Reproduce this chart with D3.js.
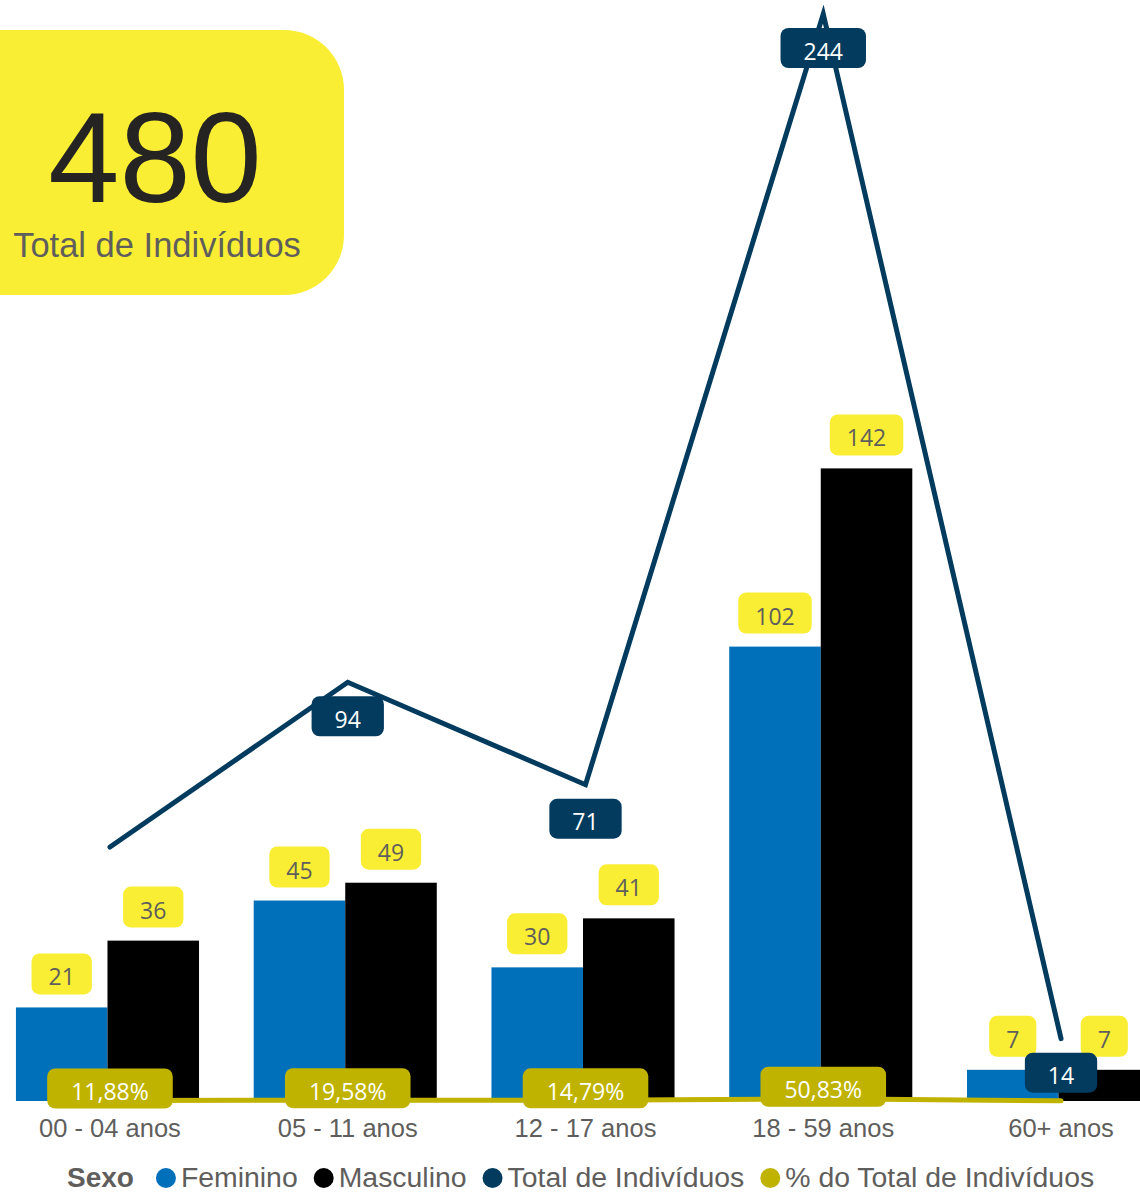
<!DOCTYPE html>
<html><head><meta charset="utf-8">
<script src="https://cdn.jsdelivr.net/npm/d3@7"></script>
<style>body{margin:0;background:#fff;} svg{display:block;}</style>
</head><body>
<svg id="chart" width="1140" height="1194"></svg>
<script>
// ---- data ----
const categories = ["00 - 04 anos", "05 - 11 anos", "12 - 17 anos", "18 - 59 anos", "60+ anos"];
const feminino = [21, 45, 30, 102, 7];
const masculino = [36, 49, 41, 142, 7];
const totalIndividuos = [57, 94, 71, 244, 14];
const showTotalLabel = [false, true, true, true, true];
const showPctLabel = [true, true, true, true, false];
const seriesNames = ["Feminino", "Masculino", "Total de Indivíduos", "% do Total de Indivíduos"];
const legendTitle = "Sexo";
const cardCaption = "Total de Indivíduos";

const grandTotal = d3.sum(totalIndividuos);
const pctTotal = totalIndividuos.map(v => v / grandTotal);
const fmtPct = v => (v * 100).toFixed(2).replace(".", ",") + "%";

// ---- style ----
const C = {
  fem: "#0070BA", masc: "#000000", total: "#023B5E", pct: "#BFB300",
  yellow: "#F9EE33", gray: "#605E5C", dark: "#252423"
};
const labelFont = "'Segoe UI', 'Open Sans', 'Noto Sans', sans-serif";
const textFont = "'Liberation Sans', Arial, sans-serif";

const svg = d3.select("#chart");

// ---- scales ----
const x = d3.scaleBand().domain(categories).range([-8.9, 1179.9]).paddingInner(0.23).paddingOuter(0.115);
const xSub = d3.scaleBand().domain(["Feminino", "Masculino"]).range([0, x.bandwidth()]);
const y = d3.scaleLinear().domain([0, 244]).range([1101, 14]);
const cx = c => x(c) + x.bandwidth() / 2;
const barShift = -2.5;

// ---- bars ----
const barData = [];
categories.forEach((c, i) => {
  barData.push({c, key: "Feminino", v: feminino[i], color: C.fem});
  barData.push({c, key: "Masculino", v: masculino[i], color: C.masc});
});
svg.append("g").selectAll("rect").data(barData).join("rect")
  .attr("x", d => x(d.c) + barShift + xSub(d.key))
  .attr("width", xSub.bandwidth())
  .attr("y", d => y(d.v))
  .attr("height", d => y(0) - y(d.v))
  .attr("fill", d => d.color);

// helper to draw label box
function labelBox(g, cxp, top, text, opts) {
  const t = g.append("text").text(text)
    .attr("font-family", labelFont).attr("font-size", opts.size)
    .attr("fill", opts.textColor).attr("text-anchor", "middle");
  const w = t.node().getComputedTextLength() + opts.pad * 2;
  g.insert("rect", () => t.node())
    .attr("x", cxp - w / 2).attr("y", top).attr("width", w).attr("height", opts.h)
    .attr("rx", 8).attr("fill", opts.fill);
  t.attr("x", cxp).attr("y", top + opts.h / 2).attr("dy", "0.5em");
}

// ---- yellow bar labels ----
const gBarLab = svg.append("g");
barData.forEach(d => {
  const bx = x(d.c) + barShift + xSub(d.key) + xSub.bandwidth() / 2;
  labelBox(gBarLab.append("g"), bx, y(d.v) - 13 - 41, String(d.v),
    {size: 23, textColor: C.gray, pad: 17, h: 41, fill: C.yellow});
});

// ---- % line ----
const line = d3.line().x(d => cx(d.c)).y(d => y(d.v));
svg.append("path")
  .datum(categories.map((c, i) => ({c, v: pctTotal[i]})))
  .attr("d", line).attr("fill", "none").attr("stroke", C.pct)
  .attr("stroke-width", 5).attr("stroke-linecap", "round").attr("stroke-linejoin", "round");
const gPct = svg.append("g");
categories.forEach((c, i) => {
  if (!showPctLabel[i]) return;
  labelBox(gPct.append("g"), cx(c), y(pctTotal[i]) - 32, fmtPct(pctTotal[i]),
    {size: 23, textColor: "#ffffff", pad: 24, h: 40, fill: C.pct});
});

// ---- total line ----
svg.append("path")
  .datum(categories.map((c, i) => ({c, v: totalIndividuos[i]})))
  .attr("d", line).attr("fill", "none").attr("stroke", C.total)
  .attr("stroke-width", 5).attr("stroke-linecap", "round").attr("stroke-linejoin", "miter");
const gTot = svg.append("g");
categories.forEach((c, i) => {
  if (!showTotalLabel[i]) return;
  labelBox(gTot.append("g"), cx(c), y(totalIndividuos[i]) + 14, String(totalIndividuos[i]),
    {size: 23, textColor: "#ffffff", pad: 23, h: 40, fill: C.total});
});

// ---- x axis labels ----
const xAxis = d3.axisBottom(x).tickSize(0).tickPadding(0);
const gx = svg.append("g").attr("transform", "translate(0,1115)").call(xAxis);
gx.select(".domain").remove();
gx.selectAll("text").attr("font-family", textFont).attr("font-size", 25.5)
  .attr("fill", C.gray).attr("dy", "0.85em");

// ---- card ----
const card = svg.append("g");
card.append("rect").attr("x", -60).attr("y", 30).attr("width", 404).attr("height", 265)
  .attr("rx", 60).attr("fill", C.yellow);
card.append("text").text(d3.format("d")(grandTotal)).attr("x", 155).attr("y", 202)
  .attr("text-anchor", "middle").attr("font-family", textFont).attr("font-size", 128)
  .attr("fill", C.dark);
card.append("text").text(cardCaption).attr("x", 157).attr("y", 257)
  .attr("text-anchor", "middle").attr("font-family", textFont).attr("font-size", 34.5)
  .attr("fill", C.gray);

// ---- legend ----
const leg = svg.append("g").attr("transform", "translate(0,1177)");
let lx = 67;
const tt = leg.append("text").text(legendTitle).attr("x", lx).attr("y", 0).attr("dy", "0.36em")
  .attr("font-family", textFont).attr("font-size", 28).attr("font-weight", "bold").attr("fill", C.gray);
lx += tt.node().getComputedTextLength() + 22;
const legColors = [C.fem, C.masc, C.total, C.pct];
seriesNames.forEach((n, i) => {
  leg.append("circle").attr("cx", lx + 10).attr("cy", 1).attr("r", 10).attr("fill", legColors[i]);
  const t = leg.append("text").text(n).attr("x", lx + 25).attr("y", 0).attr("dy", "0.36em")
    .attr("font-family", textFont).attr("font-size", 28.4).attr("fill", C.gray);
  lx += 25 + t.node().getComputedTextLength() + 16;
});
</script>
</body></html>
